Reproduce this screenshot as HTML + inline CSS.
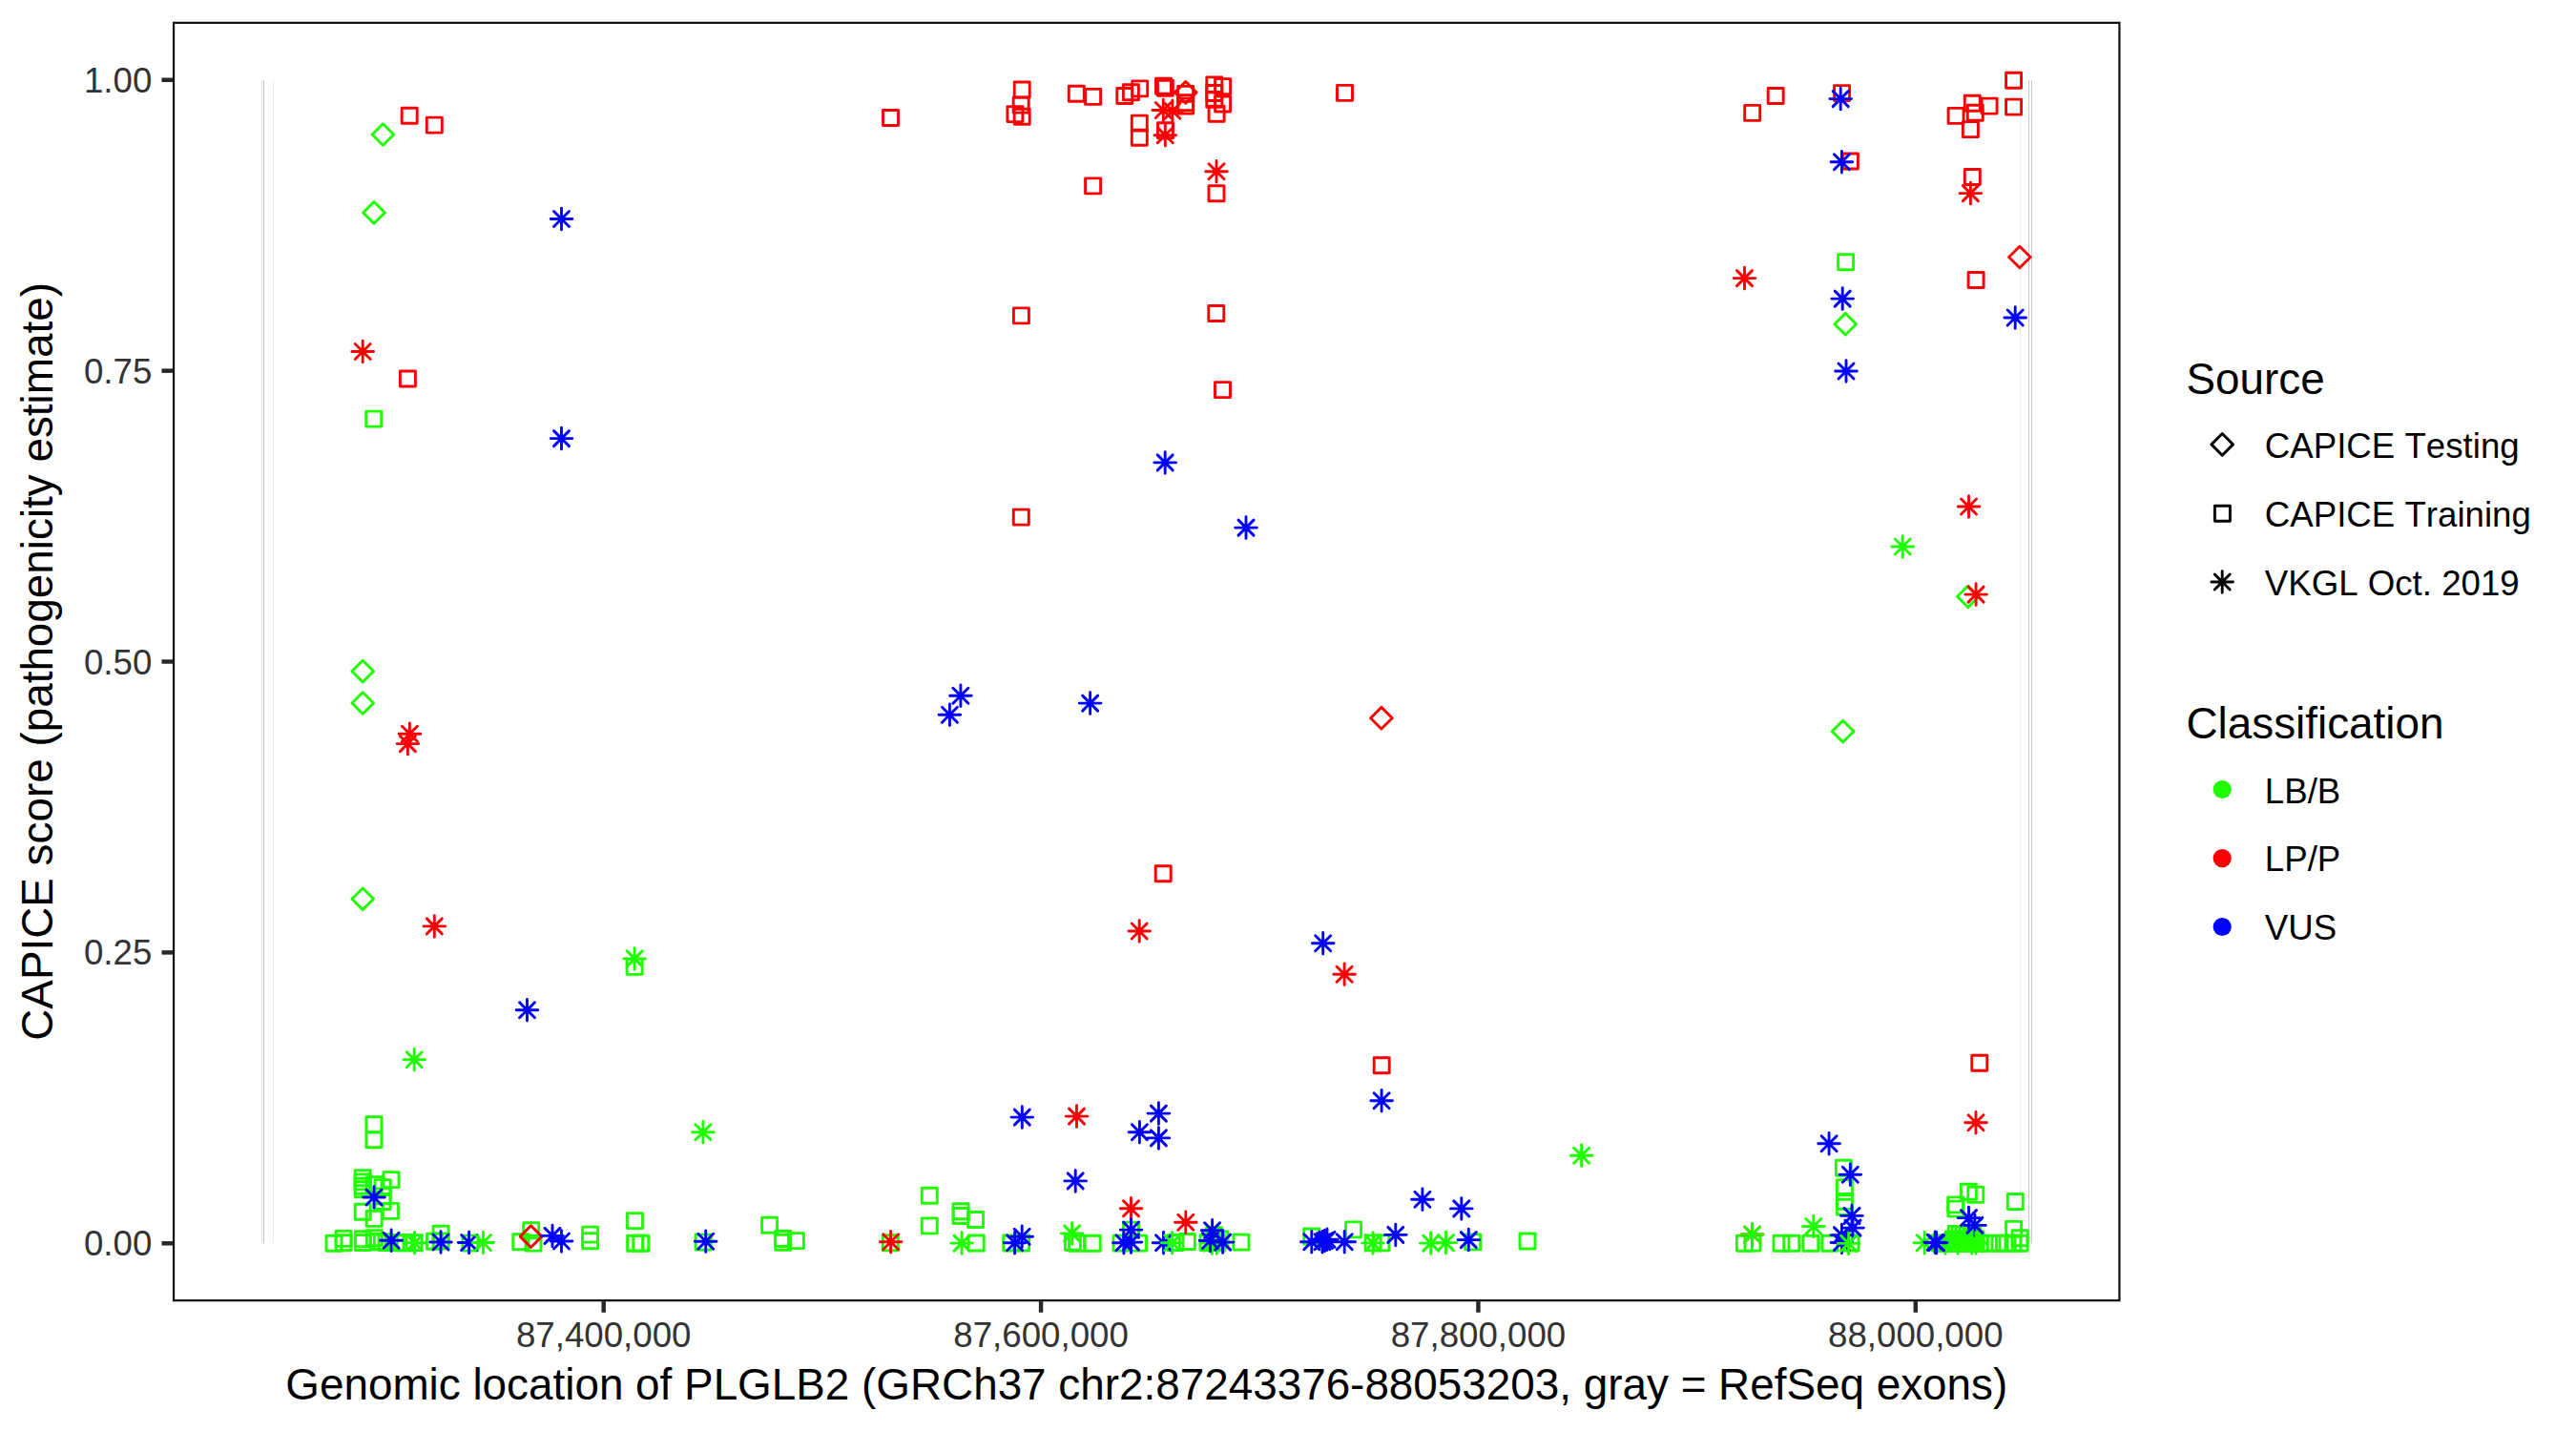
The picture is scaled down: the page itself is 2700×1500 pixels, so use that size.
<!DOCTYPE html><html><head><meta charset="utf-8"><title>CAPICE score plot</title><style>html,body{margin:0;padding:0;background:#fff;overflow:hidden}svg{display:block}text{font-family:"Liberation Sans",Arial,sans-serif;font-kerning:none}</style></head><body>
<svg width="2700" height="1500" viewBox="0 0 2700 1500">
<rect width="2700" height="1500" fill="#fff"/>
<rect x="273.90" y="83.76" width="1.00" height="1219.54" fill="#e4e4e4"/>
<rect x="276.00" y="83.76" width="1.00" height="1219.54" fill="#c6c6c6"/>
<rect x="286.00" y="83.76" width="1.00" height="1219.54" fill="#ececec"/>
<rect x="2117.00" y="83.76" width="1.00" height="1219.54" fill="#ededed"/>
<rect x="2126.00" y="83.76" width="1.00" height="1219.54" fill="#c8c8c8"/>
<rect x="2129.00" y="83.76" width="1.00" height="1219.54" fill="#c8c8c8"/>
<g fill="none" stroke-width="2.9" stroke-linecap="round" stroke-linejoin="round">
<rect x="421.20" y="113.30" width="16.00" height="16.00" stroke="#fa0004"/>
<rect x="447.30" y="123.10" width="16.00" height="16.00" stroke="#fa0004"/>
<rect x="419.40" y="389.00" width="16.00" height="16.00" stroke="#fa0004"/>
<rect x="383.70" y="431.10" width="16.00" height="16.00" stroke="#20ff00"/>
<rect x="657.10" y="1005.40" width="16.00" height="16.00" stroke="#20ff00"/>
<rect x="383.90" y="1170.70" width="16.00" height="16.00" stroke="#20ff00"/>
<rect x="383.90" y="1186.80" width="16.00" height="16.00" stroke="#20ff00"/>
<rect x="372.20" y="1226.80" width="16.00" height="16.00" stroke="#20ff00"/>
<rect x="372.20" y="1230.90" width="16.00" height="16.00" stroke="#20ff00"/>
<rect x="372.20" y="1235.20" width="16.00" height="16.00" stroke="#20ff00"/>
<rect x="372.20" y="1238.80" width="16.00" height="16.00" stroke="#20ff00"/>
<rect x="372.20" y="1262.30" width="16.00" height="16.00" stroke="#20ff00"/>
<rect x="384.00" y="1233.80" width="16.00" height="16.00" stroke="#20ff00"/>
<rect x="384.20" y="1269.40" width="16.00" height="16.00" stroke="#20ff00"/>
<rect x="393.10" y="1236.60" width="16.00" height="16.00" stroke="#20ff00"/>
<rect x="393.10" y="1245.90" width="16.00" height="16.00" stroke="#20ff00"/>
<rect x="393.10" y="1251.50" width="16.00" height="16.00" stroke="#20ff00"/>
<rect x="402.00" y="1228.60" width="16.00" height="16.00" stroke="#20ff00"/>
<rect x="401.40" y="1261.40" width="16.00" height="16.00" stroke="#20ff00"/>
<rect x="342.00" y="1295.30" width="16.00" height="16.00" stroke="#20ff00"/>
<rect x="352.10" y="1290.40" width="16.00" height="16.00" stroke="#20ff00"/>
<rect x="352.10" y="1294.70" width="16.00" height="16.00" stroke="#20ff00"/>
<rect x="372.30" y="1290.80" width="16.00" height="16.00" stroke="#20ff00"/>
<rect x="372.30" y="1294.50" width="16.00" height="16.00" stroke="#20ff00"/>
<rect x="384.30" y="1289.80" width="16.00" height="16.00" stroke="#20ff00"/>
<rect x="388.20" y="1293.80" width="16.00" height="16.00" stroke="#20ff00"/>
<rect x="392.40" y="1293.80" width="16.00" height="16.00" stroke="#20ff00"/>
<rect x="397.00" y="1294.50" width="16.00" height="16.00" stroke="#20ff00"/>
<rect x="407.00" y="1294.80" width="16.00" height="16.00" stroke="#20ff00"/>
<rect x="416.00" y="1294.80" width="16.00" height="16.00" stroke="#20ff00"/>
<rect x="425.90" y="1294.70" width="16.00" height="16.00" stroke="#20ff00"/>
<rect x="447.50" y="1293.20" width="16.00" height="16.00" stroke="#20ff00"/>
<rect x="454.10" y="1285.20" width="16.00" height="16.00" stroke="#20ff00"/>
<rect x="454.10" y="1292.90" width="16.00" height="16.00" stroke="#20ff00"/>
<rect x="484.90" y="1295.10" width="16.00" height="16.00" stroke="#20ff00"/>
<rect x="537.80" y="1293.80" width="16.00" height="16.00" stroke="#20ff00"/>
<rect x="548.70" y="1281.70" width="16.00" height="16.00" stroke="#20ff00"/>
<rect x="551.00" y="1295.10" width="16.00" height="16.00" stroke="#20ff00"/>
<rect x="610.60" y="1286.10" width="16.00" height="16.00" stroke="#20ff00"/>
<rect x="610.60" y="1292.70" width="16.00" height="16.00" stroke="#20ff00"/>
<rect x="657.40" y="1271.60" width="16.00" height="16.00" stroke="#20ff00"/>
<rect x="657.60" y="1295.30" width="16.00" height="16.00" stroke="#20ff00"/>
<rect x="663.80" y="1295.30" width="16.00" height="16.00" stroke="#20ff00"/>
<rect x="729.10" y="1294.10" width="16.00" height="16.00" stroke="#20ff00"/>
<rect x="798.60" y="1276.30" width="16.00" height="16.00" stroke="#20ff00"/>
<rect x="812.70" y="1290.50" width="16.00" height="16.00" stroke="#20ff00"/>
<rect x="812.70" y="1294.30" width="16.00" height="16.00" stroke="#20ff00"/>
<rect x="826.40" y="1292.60" width="16.00" height="16.00" stroke="#20ff00"/>
<rect x="925.30" y="1294.70" width="16.00" height="16.00" stroke="#20ff00"/>
<rect x="966.30" y="1245.30" width="16.00" height="16.00" stroke="#20ff00"/>
<rect x="966.30" y="1276.90" width="16.00" height="16.00" stroke="#20ff00"/>
<rect x="999.10" y="1261.80" width="16.00" height="16.00" stroke="#20ff00"/>
<rect x="999.10" y="1266.50" width="16.00" height="16.00" stroke="#20ff00"/>
<rect x="1014.50" y="1270.50" width="16.00" height="16.00" stroke="#20ff00"/>
<rect x="1015.20" y="1295.00" width="16.00" height="16.00" stroke="#20ff00"/>
<rect x="1051.70" y="1295.00" width="16.00" height="16.00" stroke="#20ff00"/>
<rect x="1062.60" y="1295.00" width="16.00" height="16.00" stroke="#20ff00"/>
<rect x="1116.40" y="1294.30" width="16.00" height="16.00" stroke="#20ff00"/>
<rect x="1120.50" y="1295.30" width="16.00" height="16.00" stroke="#20ff00"/>
<rect x="1137.20" y="1295.20" width="16.00" height="16.00" stroke="#20ff00"/>
<rect x="1177.50" y="1281.10" width="16.00" height="16.00" stroke="#20ff00"/>
<rect x="1167.00" y="1295.10" width="16.00" height="16.00" stroke="#20ff00"/>
<rect x="1185.50" y="1295.10" width="16.00" height="16.00" stroke="#20ff00"/>
<rect x="1224.00" y="1294.50" width="16.00" height="16.00" stroke="#20ff00"/>
<rect x="1236.30" y="1293.50" width="16.00" height="16.00" stroke="#20ff00"/>
<rect x="1264.60" y="1286.80" width="16.00" height="16.00" stroke="#20ff00"/>
<rect x="1267.30" y="1293.90" width="16.00" height="16.00" stroke="#20ff00"/>
<rect x="1292.90" y="1294.10" width="16.00" height="16.00" stroke="#20ff00"/>
<rect x="1366.70" y="1288.00" width="16.00" height="16.00" stroke="#20ff00"/>
<rect x="1410.60" y="1280.90" width="16.00" height="16.00" stroke="#20ff00"/>
<rect x="1431.10" y="1294.90" width="16.00" height="16.00" stroke="#20ff00"/>
<rect x="1439.90" y="1294.90" width="16.00" height="16.00" stroke="#20ff00"/>
<rect x="1535.70" y="1293.90" width="16.00" height="16.00" stroke="#20ff00"/>
<rect x="1593.00" y="1293.00" width="16.00" height="16.00" stroke="#20ff00"/>
<rect x="1820.40" y="1295.30" width="16.00" height="16.00" stroke="#20ff00"/>
<rect x="1829.00" y="1295.10" width="16.00" height="16.00" stroke="#20ff00"/>
<rect x="1859.00" y="1295.30" width="16.00" height="16.00" stroke="#20ff00"/>
<rect x="1869.80" y="1295.30" width="16.00" height="16.00" stroke="#20ff00"/>
<rect x="1889.80" y="1295.30" width="16.00" height="16.00" stroke="#20ff00"/>
<rect x="1909.80" y="1295.30" width="16.00" height="16.00" stroke="#20ff00"/>
<rect x="1924.40" y="1216.20" width="16.00" height="16.00" stroke="#20ff00"/>
<rect x="1925.40" y="1236.70" width="16.00" height="16.00" stroke="#20ff00"/>
<rect x="1925.40" y="1251.40" width="16.00" height="16.00" stroke="#20ff00"/>
<rect x="1925.40" y="1257.20" width="16.00" height="16.00" stroke="#20ff00"/>
<rect x="1932.00" y="1295.00" width="16.00" height="16.00" stroke="#20ff00"/>
<rect x="2055.40" y="1241.20" width="16.00" height="16.00" stroke="#20ff00"/>
<rect x="2062.80" y="1244.40" width="16.00" height="16.00" stroke="#20ff00"/>
<rect x="2041.70" y="1254.90" width="16.00" height="16.00" stroke="#20ff00"/>
<rect x="2042.00" y="1259.10" width="16.00" height="16.00" stroke="#20ff00"/>
<rect x="2104.30" y="1251.50" width="16.00" height="16.00" stroke="#20ff00"/>
<rect x="2102.60" y="1280.40" width="16.00" height="16.00" stroke="#20ff00"/>
<rect x="2095.90" y="1295.30" width="16.00" height="16.00" stroke="#20ff00"/>
<rect x="2102.00" y="1295.30" width="16.00" height="16.00" stroke="#20ff00"/>
<rect x="2109.10" y="1295.30" width="16.00" height="16.00" stroke="#20ff00"/>
<rect x="2109.10" y="1289.80" width="16.00" height="16.00" stroke="#20ff00"/>
<rect x="925.50" y="115.50" width="16.00" height="16.00" stroke="#fa0004"/>
<rect x="1063.20" y="86.00" width="16.00" height="16.00" stroke="#fa0004"/>
<rect x="1062.20" y="102.10" width="16.00" height="16.00" stroke="#fa0004"/>
<rect x="1055.90" y="111.60" width="16.00" height="16.00" stroke="#fa0004"/>
<rect x="1063.20" y="114.30" width="16.00" height="16.00" stroke="#fa0004"/>
<rect x="1120.30" y="90.20" width="16.00" height="16.00" stroke="#fa0004"/>
<rect x="1137.60" y="93.40" width="16.00" height="16.00" stroke="#fa0004"/>
<rect x="1137.60" y="186.90" width="16.00" height="16.00" stroke="#fa0004"/>
<rect x="1170.80" y="92.50" width="16.00" height="16.00" stroke="#fa0004"/>
<rect x="1177.40" y="88.80" width="16.00" height="16.00" stroke="#fa0004"/>
<rect x="1186.70" y="84.90" width="16.00" height="16.00" stroke="#fa0004"/>
<rect x="1186.30" y="121.10" width="16.00" height="16.00" stroke="#fa0004"/>
<rect x="1186.30" y="136.30" width="16.00" height="16.00" stroke="#fa0004"/>
<rect x="1211.50" y="82.30" width="16.00" height="16.00" stroke="#fa0004"/>
<rect x="1213.40" y="84.30" width="16.00" height="16.00" stroke="#fa0004"/>
<rect x="1234.70" y="90.40" width="16.00" height="16.00" stroke="#fa0004"/>
<rect x="1234.70" y="99.70" width="16.00" height="16.00" stroke="#fa0004"/>
<rect x="1234.70" y="103.10" width="16.00" height="16.00" stroke="#fa0004"/>
<rect x="1213.50" y="128.80" width="16.00" height="16.00" stroke="#fa0004"/>
<rect x="1264.80" y="80.90" width="16.00" height="16.00" stroke="#fa0004"/>
<rect x="1264.80" y="89.50" width="16.00" height="16.00" stroke="#fa0004"/>
<rect x="1264.80" y="96.40" width="16.00" height="16.00" stroke="#fa0004"/>
<rect x="1273.60" y="82.60" width="16.00" height="16.00" stroke="#fa0004"/>
<rect x="1273.60" y="101.00" width="16.00" height="16.00" stroke="#fa0004"/>
<rect x="1267.10" y="111.20" width="16.00" height="16.00" stroke="#fa0004"/>
<rect x="1401.50" y="89.40" width="16.00" height="16.00" stroke="#fa0004"/>
<rect x="1267.00" y="194.80" width="16.00" height="16.00" stroke="#fa0004"/>
<rect x="1062.40" y="322.90" width="16.00" height="16.00" stroke="#fa0004"/>
<rect x="1266.80" y="320.50" width="16.00" height="16.00" stroke="#fa0004"/>
<rect x="1273.50" y="400.60" width="16.00" height="16.00" stroke="#fa0004"/>
<rect x="1062.30" y="534.10" width="16.00" height="16.00" stroke="#fa0004"/>
<rect x="1211.20" y="907.80" width="16.00" height="16.00" stroke="#fa0004"/>
<rect x="1440.20" y="1108.70" width="16.00" height="16.00" stroke="#fa0004"/>
<rect x="1828.70" y="110.40" width="16.00" height="16.00" stroke="#fa0004"/>
<rect x="1853.20" y="92.50" width="16.00" height="16.00" stroke="#fa0004"/>
<rect x="1922.60" y="89.60" width="16.00" height="16.00" stroke="#fa0004"/>
<rect x="1931.40" y="161.00" width="16.00" height="16.00" stroke="#fa0004"/>
<rect x="2102.60" y="76.20" width="16.00" height="16.00" stroke="#fa0004"/>
<rect x="2102.60" y="104.10" width="16.00" height="16.00" stroke="#fa0004"/>
<rect x="2042.10" y="113.40" width="16.00" height="16.00" stroke="#fa0004"/>
<rect x="2059.30" y="100.20" width="16.00" height="16.00" stroke="#fa0004"/>
<rect x="2077.10" y="103.10" width="16.00" height="16.00" stroke="#fa0004"/>
<rect x="2062.30" y="110.20" width="16.00" height="16.00" stroke="#fa0004"/>
<rect x="2057.40" y="127.60" width="16.00" height="16.00" stroke="#fa0004"/>
<rect x="2059.30" y="177.50" width="16.00" height="16.00" stroke="#fa0004"/>
<rect x="1926.60" y="266.70" width="16.00" height="16.00" stroke="#20ff00"/>
<rect x="2063.10" y="285.50" width="16.00" height="16.00" stroke="#fa0004"/>
<rect x="2066.80" y="1106.30" width="16.00" height="16.00" stroke="#fa0004"/>
<rect x="2042.20" y="1285.50" width="16.00" height="16.00" stroke="#20ff00"/>
<rect x="2046.00" y="1285.50" width="16.00" height="16.00" stroke="#20ff00"/>
<rect x="2050.00" y="1285.50" width="16.00" height="16.00" stroke="#20ff00"/>
<rect x="2054.00" y="1285.50" width="16.00" height="16.00" stroke="#20ff00"/>
<rect x="2058.00" y="1285.50" width="16.00" height="16.00" stroke="#20ff00"/>
<rect x="2059.40" y="1285.50" width="16.00" height="16.00" stroke="#20ff00"/>
<rect x="2039.50" y="1291.00" width="16.00" height="16.00" stroke="#20ff00"/>
<rect x="2044.00" y="1291.00" width="16.00" height="16.00" stroke="#20ff00"/>
<rect x="2049.00" y="1291.00" width="16.00" height="16.00" stroke="#20ff00"/>
<rect x="2054.00" y="1291.00" width="16.00" height="16.00" stroke="#20ff00"/>
<rect x="2059.00" y="1291.00" width="16.00" height="16.00" stroke="#20ff00"/>
<rect x="2063.00" y="1291.00" width="16.00" height="16.00" stroke="#20ff00"/>
<rect x="2026.50" y="1295.30" width="16.00" height="16.00" stroke="#20ff00"/>
<rect x="2032.00" y="1295.30" width="16.00" height="16.00" stroke="#20ff00"/>
<rect x="2037.00" y="1295.30" width="16.00" height="16.00" stroke="#20ff00"/>
<rect x="2042.00" y="1295.30" width="16.00" height="16.00" stroke="#20ff00"/>
<rect x="2048.00" y="1295.30" width="16.00" height="16.00" stroke="#20ff00"/>
<rect x="2052.00" y="1295.30" width="16.00" height="16.00" stroke="#20ff00"/>
<rect x="2058.00" y="1295.30" width="16.00" height="16.00" stroke="#20ff00"/>
<rect x="2063.00" y="1295.30" width="16.00" height="16.00" stroke="#20ff00"/>
<rect x="2067.30" y="1295.30" width="16.00" height="16.00" stroke="#20ff00"/>
<rect x="2076.40" y="1295.30" width="16.00" height="16.00" stroke="#20ff00"/>
<rect x="2088.00" y="1295.30" width="16.00" height="16.00" stroke="#20ff00"/>
<rect x="1258.00" y="1294.50" width="16.00" height="16.00" stroke="#20ff00"/>
<rect x="1271.00" y="1291.00" width="16.00" height="16.00" stroke="#20ff00"/>
<path d="M401.40 129.69L412.71 141.00L401.40 152.31L390.09 141.00Z" stroke="#20ff00"/>
<path d="M392.00 211.59L403.31 222.90L392.00 234.21L380.69 222.90Z" stroke="#20ff00"/>
<path d="M380.20 692.29L391.51 703.60L380.20 714.91L368.89 703.60Z" stroke="#20ff00"/>
<path d="M380.20 725.69L391.51 737.00L380.20 748.31L368.89 737.00Z" stroke="#20ff00"/>
<path d="M380.20 930.99L391.51 942.30L380.20 953.61L368.89 942.30Z" stroke="#20ff00"/>
<path d="M556.50 1284.79L567.81 1296.10L556.50 1307.41L545.19 1296.10Z" stroke="#fa0004"/>
<path d="M1242.70 85.59L1254.01 96.90L1242.70 108.21L1231.39 96.90Z" stroke="#fa0004"/>
<path d="M1447.90 741.39L1459.21 752.70L1447.90 764.01L1436.59 752.70Z" stroke="#fa0004"/>
<path d="M1934.20 328.39L1945.51 339.70L1934.20 351.01L1922.89 339.70Z" stroke="#20ff00"/>
<path d="M2116.90 258.19L2128.21 269.50L2116.90 280.81L2105.59 269.50Z" stroke="#fa0004"/>
<path d="M2062.80 613.99L2074.11 625.30L2062.80 636.61L2051.49 625.30Z" stroke="#20ff00"/>
<path d="M1931.60 755.29L1942.91 766.60L1931.60 777.91L1920.29 766.60Z" stroke="#20ff00"/>
<path d="M580.50 221.50L596.50 237.50M580.50 237.50L596.50 221.50M577.19 229.50L599.81 229.50M588.50 218.19L588.50 240.81" stroke="#0000ff"/>
<path d="M372.20 360.50L388.20 376.50M372.20 376.50L388.20 360.50M368.89 368.50L391.51 368.50M380.20 357.19L380.20 379.81" stroke="#fa0004"/>
<path d="M580.50 451.60L596.50 467.60M580.50 467.60L596.50 451.60M577.19 459.60L599.81 459.60M588.50 448.29L588.50 470.91" stroke="#0000ff"/>
<path d="M421.40 761.20L437.40 777.20M421.40 777.20L437.40 761.20M418.09 769.20L440.71 769.20M429.40 757.89L429.40 780.51" stroke="#fa0004"/>
<path d="M419.40 771.60L435.40 787.60M419.40 787.60L435.40 771.60M416.09 779.60L438.71 779.60M427.40 768.29L427.40 790.91" stroke="#fa0004"/>
<path d="M447.30 962.90L463.30 978.90M447.30 978.90L463.30 962.90M443.99 970.90L466.61 970.90M455.30 959.59L455.30 982.21" stroke="#fa0004"/>
<path d="M657.10 996.90L673.10 1012.90M657.10 1012.90L673.10 996.90M653.79 1004.90L676.41 1004.90M665.10 993.59L665.10 1016.21" stroke="#20ff00"/>
<path d="M544.50 1050.70L560.50 1066.70M544.50 1066.70L560.50 1050.70M541.19 1058.70L563.81 1058.70M552.50 1047.39L552.50 1070.01" stroke="#0000ff"/>
<path d="M426.20 1102.70L442.20 1118.70M426.20 1118.70L442.20 1102.70M422.89 1110.70L445.51 1110.70M434.20 1099.39L434.20 1122.01" stroke="#20ff00"/>
<path d="M728.90 1178.80L744.90 1194.80M728.90 1194.80L744.90 1178.80M725.59 1186.80L748.21 1186.80M736.90 1175.49L736.90 1198.11" stroke="#20ff00"/>
<path d="M384.00 1247.00L400.00 1263.00M384.00 1263.00L400.00 1247.00M380.69 1255.00L403.31 1255.00M392.00 1243.69L392.00 1266.31" stroke="#0000ff"/>
<path d="M426.50 1294.80L442.50 1310.80M426.50 1310.80L442.50 1294.80M423.19 1302.80L445.81 1302.80M434.50 1291.49L434.50 1314.11" stroke="#20ff00"/>
<path d="M402.10 1292.20L418.10 1308.20M402.10 1308.20L418.10 1292.20M398.79 1300.20L421.41 1300.20M410.10 1288.89L410.10 1311.51" stroke="#0000ff"/>
<path d="M454.00 1294.00L470.00 1310.00M454.00 1310.00L470.00 1294.00M450.69 1302.00L473.31 1302.00M462.00 1290.69L462.00 1313.31" stroke="#0000ff"/>
<path d="M483.60 1294.50L499.60 1310.50M483.60 1310.50L499.60 1294.50M480.29 1302.50L502.91 1302.50M491.60 1291.19L491.60 1313.81" stroke="#0000ff"/>
<path d="M498.40 1294.50L514.40 1310.50M498.40 1310.50L514.40 1294.50M495.09 1302.50L517.71 1302.50M506.40 1291.19L506.40 1313.81" stroke="#20ff00"/>
<path d="M571.00 1287.40L587.00 1303.40M571.00 1303.40L587.00 1287.40M567.69 1295.40L590.31 1295.40M579.00 1284.09L579.00 1306.71" stroke="#0000ff"/>
<path d="M580.50 1293.00L596.50 1309.00M580.50 1309.00L596.50 1293.00M577.19 1301.00L599.81 1301.00M588.50 1289.69L588.50 1312.31" stroke="#0000ff"/>
<path d="M731.70 1293.30L747.70 1309.30M731.70 1309.30L747.70 1293.30M728.39 1301.30L751.01 1301.30M739.70 1289.99L739.70 1312.61" stroke="#0000ff"/>
<path d="M925.60 1293.80L941.60 1309.80M925.60 1309.80L941.60 1293.80M922.29 1301.80L944.91 1301.80M933.60 1290.49L933.60 1313.11" stroke="#fa0004"/>
<path d="M1000.10 1295.10L1016.10 1311.10M1000.10 1311.10L1016.10 1295.10M996.79 1303.10L1019.41 1303.10M1008.10 1291.79L1008.10 1314.41" stroke="#20ff00"/>
<path d="M1055.60 1294.70L1071.60 1310.70M1055.60 1310.70L1071.60 1294.70M1052.29 1302.70L1074.91 1302.70M1063.60 1291.39L1063.60 1314.01" stroke="#0000ff"/>
<path d="M1063.20 1288.30L1079.20 1304.30M1063.20 1304.30L1079.20 1288.30M1059.89 1296.30L1082.51 1296.30M1071.20 1284.99L1071.20 1307.61" stroke="#0000ff"/>
<path d="M1119.20 1229.90L1135.20 1245.90M1119.20 1245.90L1135.20 1229.90M1115.89 1237.90L1138.51 1237.90M1127.20 1226.59L1127.20 1249.21" stroke="#0000ff"/>
<path d="M1115.60 1284.90L1131.60 1300.90M1115.60 1300.90L1131.60 1284.90M1112.29 1292.90L1134.91 1292.90M1123.60 1281.59L1123.60 1304.21" stroke="#20ff00"/>
<path d="M1177.50 1258.80L1193.50 1274.80M1177.50 1274.80L1193.50 1258.80M1174.19 1266.80L1196.81 1266.80M1185.50 1255.49L1185.50 1278.11" stroke="#fa0004"/>
<path d="M1177.50 1281.10L1193.50 1297.10M1177.50 1297.10L1193.50 1281.10M1174.19 1289.10L1196.81 1289.10M1185.50 1277.79L1185.50 1300.41" stroke="#0000ff"/>
<path d="M1169.90 1294.70L1185.90 1310.70M1169.90 1310.70L1185.90 1294.70M1166.59 1302.70L1189.21 1302.70M1177.90 1291.39L1177.90 1314.01" stroke="#0000ff"/>
<path d="M1177.50 1294.10L1193.50 1310.10M1177.50 1310.10L1193.50 1294.10M1174.19 1302.10L1196.81 1302.10M1185.50 1290.79L1185.50 1313.41" stroke="#0000ff"/>
<path d="M1211.50 1294.70L1227.50 1310.70M1211.50 1310.70L1227.50 1294.70M1208.19 1302.70L1230.81 1302.70M1219.50 1291.39L1219.50 1314.01" stroke="#0000ff"/>
<path d="M1220.70 1294.70L1236.70 1310.70M1220.70 1310.70L1236.70 1294.70M1217.39 1302.70L1240.01 1302.70M1228.70 1291.39L1228.70 1314.01" stroke="#20ff00"/>
<path d="M1234.80 1273.20L1250.80 1289.20M1234.80 1289.20L1250.80 1273.20M1231.49 1281.20L1254.11 1281.20M1242.80 1269.89L1242.80 1292.51" stroke="#fa0004"/>
<path d="M1262.30 1295.10L1278.30 1311.10M1262.30 1311.10L1278.30 1295.10M1258.99 1303.10L1281.61 1303.10M1270.30 1291.79L1270.30 1314.41" stroke="#20ff00"/>
<path d="M1267.30 1295.10L1283.30 1311.10M1267.30 1311.10L1283.30 1295.10M1263.99 1303.10L1286.61 1303.10M1275.30 1291.79L1275.30 1314.41" stroke="#20ff00"/>
<path d="M1262.60 1281.70L1278.60 1297.70M1262.60 1297.70L1278.60 1281.70M1259.29 1289.70L1281.91 1289.70M1270.60 1278.39L1270.60 1301.01" stroke="#0000ff"/>
<path d="M1260.50 1292.50L1276.50 1308.50M1260.50 1308.50L1276.50 1292.50M1257.19 1300.50L1279.81 1300.50M1268.50 1289.19L1268.50 1311.81" stroke="#0000ff"/>
<path d="M1273.60 1294.10L1289.60 1310.10M1273.60 1310.10L1289.60 1294.10M1270.29 1302.10L1292.91 1302.10M1281.60 1290.79L1281.60 1313.41" stroke="#0000ff"/>
<path d="M1366.80 1293.80L1382.80 1309.80M1366.80 1309.80L1382.80 1293.80M1363.49 1301.80L1386.11 1301.80M1374.80 1290.49L1374.80 1313.11" stroke="#0000ff"/>
<path d="M1378.00 1293.80L1394.00 1309.80M1378.00 1309.80L1394.00 1293.80M1374.69 1301.80L1397.31 1301.80M1386.00 1290.49L1386.00 1313.11" stroke="#0000ff"/>
<path d="M1383.00 1291.30L1399.00 1307.30M1383.00 1307.30L1399.00 1291.30M1379.69 1299.30L1402.31 1299.30M1391.00 1287.99L1391.00 1310.61" stroke="#0000ff"/>
<path d="M1401.20 1293.80L1417.20 1309.80M1401.20 1309.80L1417.20 1293.80M1397.89 1301.80L1420.51 1301.80M1409.20 1290.49L1409.20 1313.11" stroke="#0000ff"/>
<path d="M1431.00 1294.90L1447.00 1310.90M1431.00 1310.90L1447.00 1294.90M1427.69 1302.90L1450.31 1302.90M1439.00 1291.59L1439.00 1314.21" stroke="#20ff00"/>
<path d="M1454.80 1286.40L1470.80 1302.40M1454.80 1302.40L1470.80 1286.40M1451.49 1294.40L1474.11 1294.40M1462.80 1283.09L1462.80 1305.71" stroke="#0000ff"/>
<path d="M1482.90 1249.20L1498.90 1265.20M1482.90 1265.20L1498.90 1249.20M1479.59 1257.20L1502.21 1257.20M1490.90 1245.89L1490.90 1268.51" stroke="#0000ff"/>
<path d="M1523.80 1258.90L1539.80 1274.90M1523.80 1274.90L1539.80 1258.90M1520.49 1266.90L1543.11 1266.90M1531.80 1255.59L1531.80 1278.21" stroke="#0000ff"/>
<path d="M1491.70 1295.10L1507.70 1311.10M1491.70 1311.10L1507.70 1295.10M1488.39 1303.10L1511.01 1303.10M1499.70 1291.79L1499.70 1314.41" stroke="#20ff00"/>
<path d="M1507.40 1294.60L1523.40 1310.60M1507.40 1310.60L1523.40 1294.60M1504.09 1302.60L1526.71 1302.60M1515.40 1291.29L1515.40 1313.91" stroke="#20ff00"/>
<path d="M1531.30 1291.60L1547.30 1307.60M1531.30 1307.60L1547.30 1291.60M1527.99 1299.60L1550.61 1299.60M1539.30 1288.29L1539.30 1310.91" stroke="#0000ff"/>
<path d="M1649.60 1203.30L1665.60 1219.30M1649.60 1219.30L1665.60 1203.30M1646.29 1211.30L1668.91 1211.30M1657.60 1199.99L1657.60 1222.61" stroke="#20ff00"/>
<path d="M1828.70 1286.00L1844.70 1302.00M1828.70 1302.00L1844.70 1286.00M1825.39 1294.00L1848.01 1294.00M1836.70 1282.69L1836.70 1305.31" stroke="#fa0004"/>
<path d="M1828.70 1286.00L1844.70 1302.00M1828.70 1302.00L1844.70 1286.00M1825.39 1294.00L1848.01 1294.00M1836.70 1282.69L1836.70 1305.31" stroke="#20ff00"/>
<path d="M1892.80 1277.50L1908.80 1293.50M1892.80 1293.50L1908.80 1277.50M1889.49 1285.50L1912.11 1285.50M1900.80 1274.19L1900.80 1296.81" stroke="#20ff00"/>
<path d="M1909.10 1190.80L1925.10 1206.80M1909.10 1206.80L1925.10 1190.80M1905.79 1198.80L1928.41 1198.80M1917.10 1187.49L1917.10 1210.11" stroke="#0000ff"/>
<path d="M1931.30 1223.20L1947.30 1239.20M1931.30 1239.20L1947.30 1223.20M1927.99 1231.20L1950.61 1231.20M1939.30 1219.89L1939.30 1242.51" stroke="#0000ff"/>
<path d="M1933.00 1266.40L1949.00 1282.40M1933.00 1282.40L1949.00 1266.40M1929.69 1274.40L1952.31 1274.40M1941.00 1263.09L1941.00 1285.71" stroke="#0000ff"/>
<path d="M1934.00 1279.10L1950.00 1295.10M1934.00 1295.10L1950.00 1279.10M1930.69 1287.10L1953.31 1287.10M1942.00 1275.79L1942.00 1298.41" stroke="#0000ff"/>
<path d="M1922.40 1286.60L1938.40 1302.60M1922.40 1302.60L1938.40 1286.60M1919.09 1294.60L1941.71 1294.60M1930.40 1283.29L1930.40 1305.91" stroke="#0000ff"/>
<path d="M1922.40 1294.50L1938.40 1310.50M1922.40 1310.50L1938.40 1294.50M1919.09 1302.50L1941.71 1302.50M1930.40 1291.19L1930.40 1313.81" stroke="#0000ff"/>
<path d="M1929.60 1295.40L1945.60 1311.40M1929.60 1311.40L1945.60 1295.40M1926.29 1303.40L1948.91 1303.40M1937.60 1292.09L1937.60 1314.71" stroke="#20ff00"/>
<path d="M2009.20 1294.80L2025.20 1310.80M2009.20 1310.80L2025.20 1294.80M2005.89 1302.80L2028.51 1302.80M2017.20 1291.49L2017.20 1314.11" stroke="#20ff00"/>
<path d="M2055.50 1268.60L2071.50 1284.60M2055.50 1284.60L2071.50 1268.60M2052.19 1276.60L2074.81 1276.60M2063.50 1265.29L2063.50 1287.91" stroke="#0000ff"/>
<path d="M2061.90 1276.40L2077.90 1292.40M2061.90 1292.40L2077.90 1276.40M2058.59 1284.40L2081.21 1284.40M2069.90 1273.09L2069.90 1295.71" stroke="#0000ff"/>
<path d="M1211.30 107.50L1227.30 123.50M1211.30 123.50L1227.30 107.50M1207.99 115.50L1230.61 115.50M1219.30 104.19L1219.30 126.81" stroke="#fa0004"/>
<path d="M1220.90 108.30L1236.90 124.30M1220.90 124.30L1236.90 108.30M1217.59 116.30L1240.21 116.30M1228.90 104.99L1228.90 127.61" stroke="#fa0004"/>
<path d="M1213.30 133.70L1229.30 149.70M1213.30 149.70L1229.30 133.70M1209.99 141.70L1232.61 141.70M1221.30 130.39L1221.30 153.01" stroke="#fa0004"/>
<path d="M1267.00 171.70L1283.00 187.70M1267.00 187.70L1283.00 171.70M1263.69 179.70L1286.31 179.70M1275.00 168.39L1275.00 191.01" stroke="#fa0004"/>
<path d="M1213.20 476.90L1229.20 492.90M1213.20 492.90L1229.20 476.90M1209.89 484.90L1232.51 484.90M1221.20 473.59L1221.20 496.21" stroke="#0000ff"/>
<path d="M1298.00 545.10L1314.00 561.10M1298.00 561.10L1314.00 545.10M1294.69 553.10L1317.31 553.10M1306.00 541.79L1306.00 564.41" stroke="#0000ff"/>
<path d="M998.90 721.30L1014.90 737.30M998.90 737.30L1014.90 721.30M995.59 729.30L1018.21 729.30M1006.90 717.99L1006.90 740.61" stroke="#0000ff"/>
<path d="M987.40 741.30L1003.40 757.30M987.40 757.30L1003.40 741.30M984.09 749.30L1006.71 749.30M995.40 737.99L995.40 760.61" stroke="#0000ff"/>
<path d="M1134.60 729.10L1150.60 745.10M1134.60 745.10L1150.60 729.10M1131.29 737.10L1153.91 737.10M1142.60 725.79L1142.60 748.41" stroke="#0000ff"/>
<path d="M1186.20 968.00L1202.20 984.00M1186.20 984.00L1202.20 968.00M1182.89 976.00L1205.51 976.00M1194.20 964.69L1194.20 987.31" stroke="#fa0004"/>
<path d="M1378.70 980.80L1394.70 996.80M1378.70 996.80L1394.70 980.80M1375.39 988.80L1398.01 988.80M1386.70 977.49L1386.70 1000.11" stroke="#0000ff"/>
<path d="M1401.10 1013.30L1417.10 1029.30M1401.10 1029.30L1417.10 1013.30M1397.79 1021.30L1420.41 1021.30M1409.10 1009.99L1409.10 1032.61" stroke="#fa0004"/>
<path d="M1063.30 1163.10L1079.30 1179.10M1063.30 1179.10L1079.30 1163.10M1059.99 1171.10L1082.61 1171.10M1071.30 1159.79L1071.30 1182.41" stroke="#0000ff"/>
<path d="M1120.50 1162.10L1136.50 1178.10M1120.50 1178.10L1136.50 1162.10M1117.19 1170.10L1139.81 1170.10M1128.50 1158.79L1128.50 1181.41" stroke="#fa0004"/>
<path d="M1206.40 1159.10L1222.40 1175.10M1206.40 1175.10L1222.40 1159.10M1203.09 1167.10L1225.71 1167.10M1214.40 1155.79L1214.40 1178.41" stroke="#0000ff"/>
<path d="M1186.40 1178.70L1202.40 1194.70M1186.40 1194.70L1202.40 1178.70M1183.09 1186.70L1205.71 1186.70M1194.40 1175.39L1194.40 1198.01" stroke="#0000ff"/>
<path d="M1206.40 1184.90L1222.40 1200.90M1206.40 1200.90L1222.40 1184.90M1203.09 1192.90L1225.71 1192.90M1214.40 1181.59L1214.40 1204.21" stroke="#0000ff"/>
<path d="M1440.10 1145.80L1456.10 1161.80M1440.10 1161.80L1456.10 1145.80M1436.79 1153.80L1459.41 1153.80M1448.10 1142.49L1448.10 1165.11" stroke="#0000ff"/>
<path d="M1921.20 95.60L1937.20 111.60M1921.20 111.60L1937.20 95.60M1917.89 103.60L1940.51 103.60M1929.20 92.29L1929.20 114.91" stroke="#0000ff"/>
<path d="M1922.40 161.80L1938.40 177.80M1922.40 177.80L1938.40 161.80M1919.09 169.80L1941.71 169.80M1930.40 158.49L1930.40 181.11" stroke="#0000ff"/>
<path d="M2057.40 194.60L2073.40 210.60M2057.40 210.60L2073.40 194.60M2054.09 202.60L2076.71 202.60M2065.40 191.29L2065.40 213.91" stroke="#fa0004"/>
<path d="M1820.50 283.60L1836.50 299.60M1820.50 299.60L1836.50 283.60M1817.19 291.60L1839.81 291.60M1828.50 280.29L1828.50 302.91" stroke="#fa0004"/>
<path d="M1923.20 305.10L1939.20 321.10M1923.20 321.10L1939.20 305.10M1919.89 313.10L1942.51 313.10M1931.20 301.79L1931.20 324.41" stroke="#0000ff"/>
<path d="M1927.00 381.00L1943.00 397.00M1927.00 397.00L1943.00 381.00M1923.69 389.00L1946.31 389.00M1935.00 377.69L1935.00 400.31" stroke="#0000ff"/>
<path d="M2104.20 325.00L2120.20 341.00M2104.20 341.00L2120.20 325.00M2100.89 333.00L2123.51 333.00M2112.20 321.69L2112.20 344.31" stroke="#0000ff"/>
<path d="M2055.50 523.00L2071.50 539.00M2055.50 539.00L2071.50 523.00M2052.19 531.00L2074.81 531.00M2063.50 519.69L2063.50 542.31" stroke="#fa0004"/>
<path d="M1986.20 565.00L2002.20 581.00M1986.20 581.00L2002.20 565.00M1982.89 573.00L2005.51 573.00M1994.20 561.69L1994.20 584.31" stroke="#20ff00"/>
<path d="M2063.10 615.10L2079.10 631.10M2063.10 631.10L2079.10 615.10M2059.79 623.10L2082.41 623.10M2071.10 611.79L2071.10 634.41" stroke="#fa0004"/>
<path d="M2063.00 1168.70L2079.00 1184.70M2063.00 1184.70L2079.00 1168.70M2059.69 1176.70L2082.31 1176.70M2071.00 1165.39L2071.00 1188.01" stroke="#fa0004"/>
<path d="M2031.00 1295.00L2047.00 1311.00M2031.00 1311.00L2047.00 1295.00M2027.69 1303.00L2050.31 1303.00M2039.00 1291.69L2039.00 1314.31" stroke="#20ff00"/>
<path d="M2044.00 1295.00L2060.00 1311.00M2044.00 1311.00L2060.00 1295.00M2040.69 1303.00L2063.31 1303.00M2052.00 1291.69L2052.00 1314.31" stroke="#20ff00"/>
<path d="M2058.80 1295.00L2074.80 1311.00M2058.80 1311.00L2074.80 1295.00M2055.49 1303.00L2078.11 1303.00M2066.80 1291.69L2066.80 1314.31" stroke="#20ff00"/>
<path d="M2063.00 1295.00L2079.00 1311.00M2063.00 1311.00L2079.00 1295.00M2059.69 1303.00L2082.31 1303.00M2071.00 1291.69L2071.00 1314.31" stroke="#20ff00"/>
<path d="M2020.20 1294.30L2036.20 1310.30M2020.20 1310.30L2036.20 1294.30M2016.89 1302.30L2039.51 1302.30M2028.20 1290.99L2028.20 1313.61" stroke="#0000ff"/>
<path d="M2021.60 1294.80L2037.60 1310.80M2021.60 1310.80L2037.60 1294.80M2018.29 1302.80L2040.91 1302.80M2029.60 1291.49L2029.60 1314.11" stroke="#0000ff"/>
<path d="M1380.50 1292.50L1396.50 1308.50M1380.50 1308.50L1396.50 1292.50M1377.19 1300.50L1399.81 1300.50M1388.50 1289.19L1388.50 1311.81" stroke="#0000ff"/>
</g>
<rect x="182.05" y="23.89" width="2039.39" height="1339.3" fill="none" stroke="#111" stroke-width="2.22"/>
<line x1="169.48" x2="181.2" y1="83.76" y2="83.76" stroke="#272727" stroke-width="4.45"/>
<text x="159.3" y="96.76" font-size="36.67" fill="#333" text-anchor="end">1.00</text>
<line x1="169.48" x2="181.2" y1="388.64" y2="388.64" stroke="#272727" stroke-width="4.45"/>
<text x="159.3" y="401.64" font-size="36.67" fill="#333" text-anchor="end">0.75</text>
<line x1="169.48" x2="181.2" y1="693.53" y2="693.53" stroke="#272727" stroke-width="4.45"/>
<text x="159.3" y="706.53" font-size="36.67" fill="#333" text-anchor="end">0.50</text>
<line x1="169.48" x2="181.2" y1="998.41" y2="998.41" stroke="#272727" stroke-width="4.45"/>
<text x="159.3" y="1011.41" font-size="36.67" fill="#333" text-anchor="end">0.25</text>
<line x1="169.48" x2="181.2" y1="1303.30" y2="1303.30" stroke="#272727" stroke-width="4.45"/>
<text x="159.3" y="1316.30" font-size="36.67" fill="#333" text-anchor="end">0.00</text>
<line x1="632.70" x2="632.70" y1="1364.1" y2="1375.76" stroke="#272727" stroke-width="4.45"/>
<text x="632.70" y="1412.1" font-size="36.67" fill="#333" text-anchor="middle">87,400,000</text>
<line x1="1091.07" x2="1091.07" y1="1364.1" y2="1375.76" stroke="#272727" stroke-width="4.45"/>
<text x="1091.07" y="1412.1" font-size="36.67" fill="#333" text-anchor="middle">87,600,000</text>
<line x1="1549.44" x2="1549.44" y1="1364.1" y2="1375.76" stroke="#272727" stroke-width="4.45"/>
<text x="1549.44" y="1412.1" font-size="36.67" fill="#333" text-anchor="middle">87,800,000</text>
<line x1="2007.81" x2="2007.81" y1="1364.1" y2="1375.76" stroke="#272727" stroke-width="4.45"/>
<text x="2007.81" y="1412.1" font-size="36.67" fill="#333" text-anchor="middle">88,000,000</text>
<text x="1201.8" y="1467" font-size="45.83" fill="#000" text-anchor="middle">Genomic location of PLGLB2 (GRCh37 chr2:87243376-88053203, gray = RefSeq exons)</text>
<text transform="translate(54.9 693.4) rotate(-90)" x="0" y="0" font-size="45.83" fill="#000" text-anchor="middle">CAPICE score (pathogenicity estimate)</text>
<text x="2291.5" y="412.9" font-size="45.83" fill="#000">Source</text>
<text x="2373.8" y="480" font-size="36.67" fill="#000">CAPICE Testing</text>
<text x="2373.8" y="552.3" font-size="36.67" fill="#000">CAPICE Training</text>
<text x="2373.8" y="623.6" font-size="36.67" fill="#000">VKGL Oct. 2019</text>
<g fill="none" stroke-width="2.9" stroke-linecap="round" stroke-linejoin="round">
<path d="M2329.20 454.59L2340.51 465.90L2329.20 477.21L2317.89 465.90Z" stroke="#000000"/>
<rect x="2321.40" y="530.30" width="16.00" height="16.00" stroke="#000000"/>
<path d="M2321.20 602.00L2337.20 618.00M2321.20 618.00L2337.20 602.00M2317.89 610.00L2340.51 610.00M2329.20 598.69L2329.20 621.31" stroke="#000000"/>
</g>
<text x="2291.5" y="774.4" font-size="45.83" fill="#000">Classification</text>
<text x="2373.8" y="841.5" font-size="36.67" fill="#000">LB/B</text>
<text x="2373.8" y="913.4" font-size="36.67" fill="#000">LP/P</text>
<text x="2373.8" y="985.1" font-size="36.67" fill="#000">VUS</text>
<circle cx="2329.2" cy="827.5" r="9.6" fill="#20ff00"/>
<circle cx="2329.2" cy="899.6" r="9.6" fill="#fa0004"/>
<circle cx="2329.2" cy="971.5" r="9.6" fill="#0000ff"/>
</svg></body></html>
